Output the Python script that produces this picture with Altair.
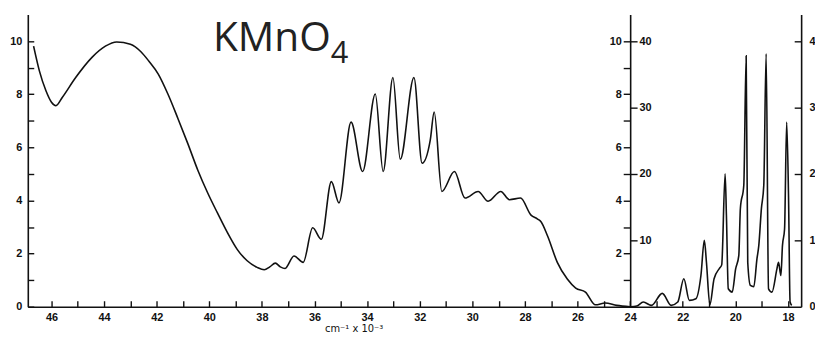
import altair as alt
import pandas as pd

# UV band (left scale, 0-11)
uv_wn = [46.68, 46.46, 46.21, 46.0, 45.83, 45.59, 45.08, 44.46, 43.95, 43.52, 43.0, 42.6,
         42.3, 41.94, 41.57, 41.19, 40.82, 40.44, 40.06, 39.69, 39.31, 38.94, 38.56, 38.18,
         37.91, 37.7, 37.49, 37.3, 37.12, 36.78, 36.43, 36.07, 35.74, 35.36, 35.07, 34.61,
         34.17, 33.69, 33.39, 33.02, 32.74, 32.22, 31.91, 31.6, 31.45, 31.16, 30.68, 30.28,
         29.78, 29.4, 28.92, 28.59, 28.17, 27.77, 27.52, 27.39, 27.14, 26.77, 26.39, 26.07,
         25.70, 25.32, 24.95, 24.51, 24.0]
uv_abs = [9.81, 8.88, 8.13, 7.7, 7.57, 7.88, 8.63, 9.39, 9.81, 9.97, 9.88, 9.6,
          9.25, 8.76, 8.0, 7.08, 6.15, 5.15, 4.28, 3.53, 2.79, 2.16, 1.73, 1.48,
          1.39, 1.5, 1.64, 1.5, 1.44, 1.91, 1.67, 2.97, 2.54, 4.71, 3.91, 6.95,
          5.09, 8.01, 5.09, 8.63, 5.55, 8.63, 5.4, 6.27, 7.33, 4.34, 5.09, 4.09,
          4.34, 3.97, 4.34, 4.03, 4.09, 3.45, 3.3, 3.2, 2.66, 1.67, 1.04, 0.7,
          0.55, 0.07, 0.14, 0.05, 0.0]

# Visible band (right scale, 0-44)
vis_wn = [24.0, 23.75, 23.5, 23.19, 22.78, 22.44, 22.19, 21.96, 21.75, 21.5, 21.31, 21.18,
          21.10, 20.97, 20.81, 20.6, 20.52, 20.39, 20.34, 20.27, 20.12, 19.99, 19.87, 19.81,
          19.68, 19.59, 19.53, 19.43, 19.30, 19.18, 19.11, 19.01, 18.92, 18.83, 18.74, 18.61,
          18.42, 18.36, 18.27, 18.21, 18.13, 18.05, 17.98, 17.92, 17.86]
vis_abs = [0.0, 0.1, 0.7, 0.2, 2.0, 0.2, 0.7, 4.2, 0.95, 1.2, 4.7, 10.0,
           6.7, 0.3, 4.2, 5.8, 6.3, 20.0, 13.7, 2.7, 2.2, 5.7, 7.7, 14.8,
           18.3, 37.8, 6.7, 3.2, 3.0, 7.2, 9.2, 14.8, 18.3, 38.1, 2.7, 2.2,
           5.7, 6.7, 4.7, 9.2, 11.7, 27.8, 16.8, 0.7, 0.2]

x_ticks = list(range(18, 47))
x_labels = list(range(18, 47, 2))
left_ticks = list(range(0, 11))
left_labels = [0, 2, 4, 6, 8, 10]
right_ticks = [10, 20, 30, 40]
right_labels = [0, 10, 20, 30, 40]

W, H = 781, 295
XHI, XLO = 46.9, 17.5
MID = (XHI - 24.0) / (XHI - XLO) * W

df_uv = pd.DataFrame({"wn": uv_wn, "A": uv_abs})
df_vis = pd.DataFrame({"wn": vis_wn, "A": vis_abs})

xs = alt.Scale(domain=[XHI, XLO], nice=False, zero=False)
ysL = alt.Scale(domain=[0, 11], nice=False, zero=False)
ysR = alt.Scale(domain=[0, 44], nice=False, zero=False)

INK = "#111111"
common = dict(labelFont="Liberation Sans", labelFontSize=11, labelFontWeight="bold",
              labelColor=INK, domainColor=INK, tickColor=INK, domainWidth=1.6,
              tickWidth=1.4, grid=False, title=None, format="d")

l1 = alt.Chart(df_uv).mark_line(interpolate="monotone", color=INK, strokeWidth=1.6).encode(
    x=alt.X("wn:Q", scale=xs, axis=alt.Axis(
        orient="bottom", values=x_labels, ticks=False, tickSize=0, domain=True,
        labelPadding=5, **{k: v for k, v in common.items() if k != "title"},
        title="cm⁻¹ x 10⁻³", titleFont="DejaVu Sans", titleFontSize=10,
        titleFontWeight="normal", titleColor=INK, titleX=329, titleY=25,
        titleAlign="center", titleBaseline="alphabetic")),
    y=alt.Y("A:Q", scale=ysL, axis=alt.Axis(
        orient="left", values=left_labels, ticks=False, tickSize=0, domain=True,
        labelPadding=6, **common)),
)

l2 = alt.Chart(df_uv).mark_line(strokeOpacity=0).encode(
    x=alt.X("wn:Q", scale=xs, axis=alt.Axis(
        orient="top", offset=-H, values=x_ticks, tickSize=6, labels=False,
        domain=False, **common)),
    y=alt.Y("A:Q", scale=ysL, axis=alt.Axis(
        orient="right", offset=-W, values=left_ticks, tickSize=6, labels=False,
        domain=False, **common)),
)

l3 = alt.Chart(df_uv).mark_line(strokeOpacity=0).encode(
    x=alt.X("wn:Q", scale=xs, axis=None),
    y=alt.Y("A:Q", scale=ysL, axis=alt.Axis(
        orient="left", offset=-MID, values=left_ticks[1:], tickSize=7,
        labelExpr="datum.value % 2 == 0 ? datum.label : ''",
        labelPadding=2, domain=True, **common)),
)

l4 = alt.Chart(df_vis).mark_line(interpolate="monotone", color=INK, strokeWidth=1.6).encode(
    x=alt.X("wn:Q", scale=xs, axis=None),
    y=alt.Y("A:Q", scale=ysR, axis=alt.Axis(
        orient="right", offset=-(W - MID), values=right_ticks, tickSize=7,
        labelPadding=2, domain=False, **common)),
)

l5 = alt.Chart(df_vis).mark_line(strokeOpacity=0).encode(
    x=alt.X("wn:Q", scale=xs, axis=None),
    y=alt.Y("A:Q", scale=ysR, axis=alt.Axis(
        orient="right", values=right_labels, ticks=False, tickSize=0,
        labelPadding=8, domain=True, **common)),
)

l6 = alt.Chart(df_vis).mark_line(strokeOpacity=0).encode(
    x=alt.X("wn:Q", scale=xs, axis=None),
    y=alt.Y("A:Q", scale=ysR, axis=alt.Axis(
        orient="left", offset=-W, values=right_ticks, tickSize=7, labels=False,
        domain=False, **common)),
)

title_main = alt.Chart(pd.DataFrame({"t": ["KMnO"]})).mark_text(
    font="Open Sans", fontSize=41, color="#222222", align="left", baseline="alphabetic"
).encode(x=alt.value(187), y=alt.value(37), text="t:N")
title_sub = alt.Chart(pd.DataFrame({"t": ["4"]})).mark_text(
    font="Open Sans", fontSize=31, color="#222222", align="left", baseline="alphabetic"
).encode(x=alt.value(306), y=alt.value(49), text="t:N")

chart = alt.layer(l1, l2, l3, l4, l5, l6, title_main, title_sub).resolve_scale(
    y="independent"
).resolve_axis(x="independent", y="independent").properties(
    width=W, height=H,
    autosize=alt.AutoSizeParams(type="none"),
    padding={"left": 20, "top": 5, "right": 14, "bottom": 33},
    background="white",
).configure_view(stroke=None)

chart.save("out.html", embed_options={"renderer": "svg", "actions": False})
